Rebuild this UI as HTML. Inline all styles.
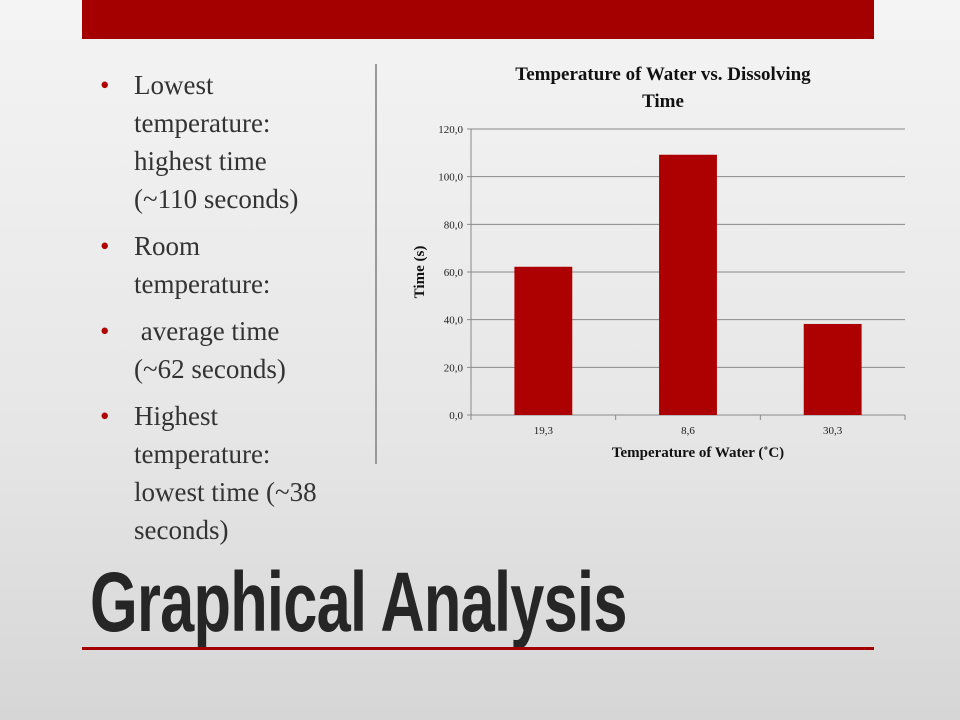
<!DOCTYPE html>
<html><head><meta charset="utf-8"><style>
body{margin:0;width:960px;height:720px;overflow:hidden;background:linear-gradient(180deg,#f4f4f4 0%,#e6e6e6 60%,#d6d6d6 100%);position:relative;font-family:"Liberation Serif",serif}
.topbar{position:absolute;left:82px;top:0;width:792px;height:39px;background:#a50000}
.divider{position:absolute;left:375px;top:64px;width:2px;height:400px;background:#999}
ul{position:absolute;left:100px;top:66px;margin:0;padding:0;list-style:none;width:280px;font-size:27px;line-height:38px;color:#333;white-space:nowrap}
li{position:relative;padding-left:34px;margin-bottom:9px}
li:before{content:"•";color:#b00000;position:absolute;left:0;top:0}
.title{position:absolute;left:90px;top:554px;font-family:"Liberation Sans",sans-serif;font-weight:bold;font-size:84px;color:#262626;transform:scaleX(0.73);transform-origin:0 0;white-space:nowrap;letter-spacing:-1px}
.rule{position:absolute;left:82px;top:647px;width:792px;height:3px;background:#a50000}
</style></head><body>
<div class="topbar"></div>
<ul>
<li>Lowest<br>temperature:<br>highest time<br>(~110 seconds)</li>
<li>Room<br>temperature:</li>
<li>&nbsp;average time<br>(~62 seconds)</li>
<li>Highest<br>temperature:<br>lowest time (~38<br>seconds)</li>
</ul>
<div class="divider"></div>
<svg id="chart" width="960" height="720" style="position:absolute;left:0;top:0">
<text x="663" y="80" text-anchor="middle" font-family="Liberation Serif" font-weight="bold" font-size="19" fill="#111">Temperature of Water vs. Dissolving</text>
<text x="663" y="107" text-anchor="middle" font-family="Liberation Serif" font-weight="bold" font-size="19" fill="#111">Time</text>
<text x="698" y="457" text-anchor="middle" font-family="Liberation Serif" font-weight="bold" font-size="15" fill="#111">Temperature of Water (˚C)</text>
<text transform="translate(424,272) rotate(-90)" text-anchor="middle" font-family="Liberation Serif" font-weight="bold" font-size="15" fill="#111">Time (s)</text>
</svg>
<div class="title">Graphical Analysis</div>
<div class="rule"></div>
<script>
const categories=["19,3","8,6","30,3"];
const values=[62.2,109.2,38.2];
const yTicks=[0,20,40,60,80,100,120];
const svg=document.getElementById('chart');
const NS='http://www.w3.org/2000/svg';
const x0=471,x1=905,y0=415,y1=129,yMax=120;
const yS=v=>y0-(v/yMax)*(y0-y1);
const band=(x1-x0)/categories.length;
function mk(t,a){const e=document.createElementNS(NS,t);for(const k in a)e.setAttribute(k,a[k]);svg.appendChild(e);return e;}
yTicks.forEach(t=>{
 const g=mk('line',{x1:x0-4,x2:x1,y1:yS(t),y2:yS(t),stroke:'#8a8a8a','stroke-width':1});
 
 
 const l=mk('text',{x:x0-8,y:yS(t)+4,'text-anchor':'end','font-family':'Liberation Serif','font-size':11,fill:'#222'});
 l.textContent=t.toFixed(1).replace('.',',');
 
 
});
const ax=mk('line',{x1:x0,x2:x0,y1:y1,y2:y0,stroke:'#888'});


for(let i=0;i<=categories.length;i++){
 const tk=mk('line',{x1:x0+i*band,x2:x0+i*band,y1:y0,y2:y0+5,stroke:'#888'});
 
 
}
categories.forEach((c,i)=>{
 const cx=x0+band*(i+0.5),w=band*0.4;
 const r=mk('rect',{x:cx-w/2,y:yS(values[i]),width:w,height:y0-yS(values[i]),fill:'#ad0000'});
 
 
 const t=mk('text',{x:cx,y:y0+19,'text-anchor':'middle','font-family':'Liberation Serif','font-size':11,fill:'#222'});
 t.textContent=c;
 
 
});
</script>
</body></html>
